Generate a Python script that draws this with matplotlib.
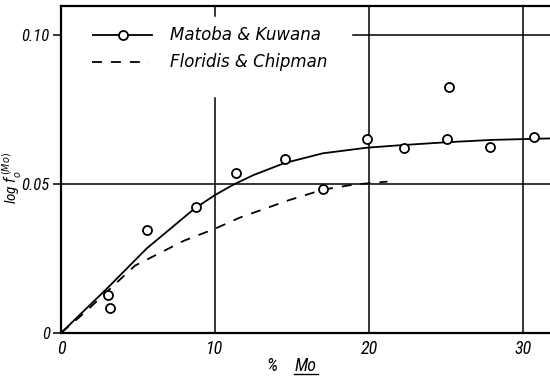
import matplotlib
matplotlib.use("Agg")
import matplotlib.pyplot as plt
from matplotlib import font_manager

# Data
mk_x = [3.05, 3.18, 5.58, 8.77, 11.36, 14.55, 17.0, 19.87, 22.27, 25.06, 25.2, 27.86, 30.7]
mk_y = [0.0128, 0.0084, 0.0346, 0.0423, 0.0537, 0.0584, 0.0483, 0.0651, 0.0621, 0.0651, 0.0826, 0.0624, 0.0658]

solid_x = [0, 3.0, 5.55, 8.66, 10.0, 11.2, 12.5, 14.5, 17.0, 19.9, 22.0, 25.0, 28.0, 31.8]
solid_y = [0, 0.0150, 0.0283, 0.0417, 0.0463, 0.0498, 0.0530, 0.0570, 0.0603, 0.0622, 0.0630, 0.0640, 0.0648, 0.0653]

dash_x = [0, 1.5, 4.8, 8.0, 10.0, 11.6, 14.7, 17.0, 19.0, 21.2]
dash_y = [0, 0.0067, 0.0226, 0.0310, 0.0350, 0.0387, 0.0444, 0.0481, 0.0498, 0.0508]

x_ticks = [0, 10, 20, 30]
x_tick_labels = ["0", "10", "20", "30"]
y_ticks = [0, 0.05, 0.10]
y_tick_labels = ["0", "0.05", "0.10"]

names = {f.name for f in font_manager.fontManager.ttflist}
cond = None
for n in ['Roboto Condensed', 'DejaVu Sans Condensed', 'Liberation Sans Narrow', 'Open Sans Condensed']:
    if n in names:
        cond = n
        break
if cond is None:
    cond = 'DejaVu Sans'
plt.rcParams['font.family'] = [cond, 'DejaVu Sans']
plt.rcParams['font.stretch'] = 'condensed'

fig = plt.figure(figsize=(5.5, 3.8), dpi=100)
ax = fig.add_axes([61/550, 1 - 333/380, (551 - 61)/550, (333 - 6)/380])
ax.set_xlim(0, (551 - 61)/15.4)
ymax = (333 - 6)/2980
ax.set_ylim(0, ymax)

lw = 1.3
# grid lines
ax.axhline(0.05, color='black', lw=1.1, zorder=1)
ax.plot([18.96, 40], [0.10, 0.10], color='black', lw=1.1, zorder=1)
ax.axvline(20, color='black', lw=1.1, zorder=1)
ax.axvline(30, color='black', lw=1.1, zorder=1)
ax.plot([10, 10], [0, 0.079], color='black', lw=1.1, zorder=1)
ax.plot([10, 10], [0.1065, 0.12], color='black', lw=1.1, zorder=1)

ax.plot(solid_x, solid_y, color='black', lw=lw, zorder=2)
ax.plot(dash_x, dash_y, color='black', lw=lw, dashes=(5.5, 5), zorder=2)
ax.plot(mk_x, mk_y, linestyle='none', marker='o', markersize=6.5,
        markerfacecolor='white', markeredgecolor='black', markeredgewidth=1.3, zorder=3)

# legend drawn manually
y1 = 0.10 / ymax
y2 = (333 - 62) / 327
ax.plot([0.065, 0.186], [y1, y1], transform=ax.transAxes, color='black', lw=lw)
ax.plot([0.127], [y1], transform=ax.transAxes, marker='o',
        markersize=6.5, markerfacecolor='white', markeredgecolor='black', markeredgewidth=1.3)
ax.plot([0.063, 0.18], [y2, y2], transform=ax.transAxes,
        color='black', lw=lw, dashes=(5.5, 5))
ax.text(0.222, y1, "Matoba & Kuwana", transform=ax.transAxes, family=['DejaVu Sans'],
        stretch='normal', fontsize=12, style='italic', va='center', ha='left')
ax.text(0.222, y2, "Floridis & Chipman", transform=ax.transAxes, family=['DejaVu Sans'],
        stretch='normal', fontsize=12, style='italic', va='center', ha='left')

for s in ['left', 'bottom', 'top']:
    ax.spines[s].set_linewidth(1.6)
ax.spines['right'].set_visible(False)

ax.set_xticks(x_ticks)
ax.set_xticklabels(x_tick_labels, fontsize=13, style='italic')
ax.set_yticks(y_ticks)
ax.set_yticklabels(y_tick_labels, fontsize=12, style='italic')
ax.tick_params(axis='x', length=0, pad=5)
ax.tick_params(axis='y', length=6, width=1.1, pad=2)

fig.text(12/550, 1 - 178/380, r"log $f_o^{\,(Mo)}$", fontsize=11, style='italic',
         rotation=90, ha='center', va='center')
fig.text(272/550, 1 - 366/380, "%", fontsize=13, style='italic', ha='center', va='center')
fig.text(306/550, 1 - 366/380, "Mo", fontsize=13, style='italic', ha='center', va='center')
fig.lines.append(plt.Line2D([294/550, 318/550], [1 - 374/380, 1 - 374/380],
                            transform=fig.transFigure, color='black', lw=1.0))

fig.savefig("out.png", dpi=100)
